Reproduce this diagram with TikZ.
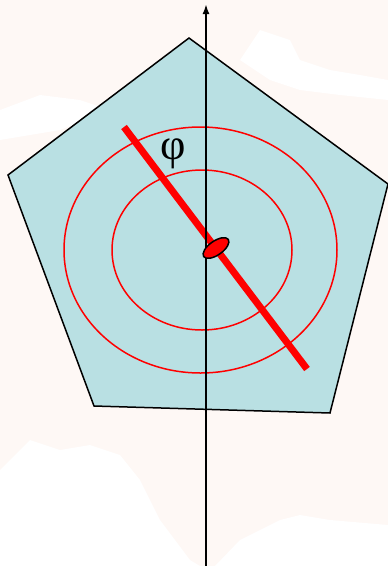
\documentclass[tikz,border=0pt]{standalone}
\usepackage{fontspec}
\newfontfamily\phifont{Liberation Serif}
\usetikzlibrary{arrows.meta}
\definecolor{bgpeach}{HTML}{FEF8F5}
\definecolor{pentfill}{HTML}{B9E0E3}
\definecolor{ringred}{HTML}{FF0000}
\tikzset{
  pent/.style={draw=black, line width=1.5pt, fill=pentfill, line join=miter},
  ring/.style={draw=ringred, line width=1.5pt},
  rod/.style={draw=ringred, line width=7pt},
  axisline/.style={draw=black, line width=2pt, -{Latex[length=10pt,width=7pt]}},
  lbl/.style={font=\phifont\fontsize{44}{48}\selectfont, inner sep=0pt}
}
\begin{document}
\begin{tikzpicture}[x=1pt,y=-1pt]
  \useasboundingbox (0,0) rectangle (388,566);
  \fill[bgpeach] (0,0) rectangle (388,566);
  % faint white patches of the background
  \fill[white] (0,470) -- (30,440) -- (60,450) -- (90,445) -- (120,455) -- (140,480) -- (160,520) -- (190,560) -- (200,566) -- (0,566) -- cycle;
  \fill[white] (215,566) -- (240,540) -- (280,520) -- (300,515) -- (330,520) -- (388,525) -- (388,566) -- cycle;
  \fill[white] (240,60) -- (260,30) -- (290,40) -- (300,60) -- (330,70) -- (360,75) -- (388,80) -- (388,100) -- (340,95) -- (300,90) -- (270,80) -- cycle;
  \fill[white] (0,110) -- (40,95) -- (80,100) -- (110,110) -- (60,130) -- (0,140) -- cycle;
  % pentagon
  \draw[pent] (189,38) -- (388,184) -- (330,413) -- (94,406) -- (8,175) -- cycle;
  % rings
  \draw[ring] (200.5,250) ellipse [x radius=136.5, y radius=123];
  \draw[ring] (202,250) ellipse [x radius=90, y radius=80];
  % rod
  \coordinate (rodA) at (124,127);
  \coordinate (rodB) at (307,369);
  \draw[rod] (rodA) -- (rodB);
  % axis
  \coordinate (axbot) at (206,566);
  \coordinate (axtop) at (206,4);
  \draw[axisline] (axbot) -- (axtop);
  % small ellipse at centre
  \draw[fill=ringred, draw=black, line width=1.5pt, rotate around={35:(216,248)}] (216,248) ellipse [x radius=15, y radius=7];
  % label
  \node[lbl] (phi) at (173,154) {φ};
\end{tikzpicture}
\end{document}
